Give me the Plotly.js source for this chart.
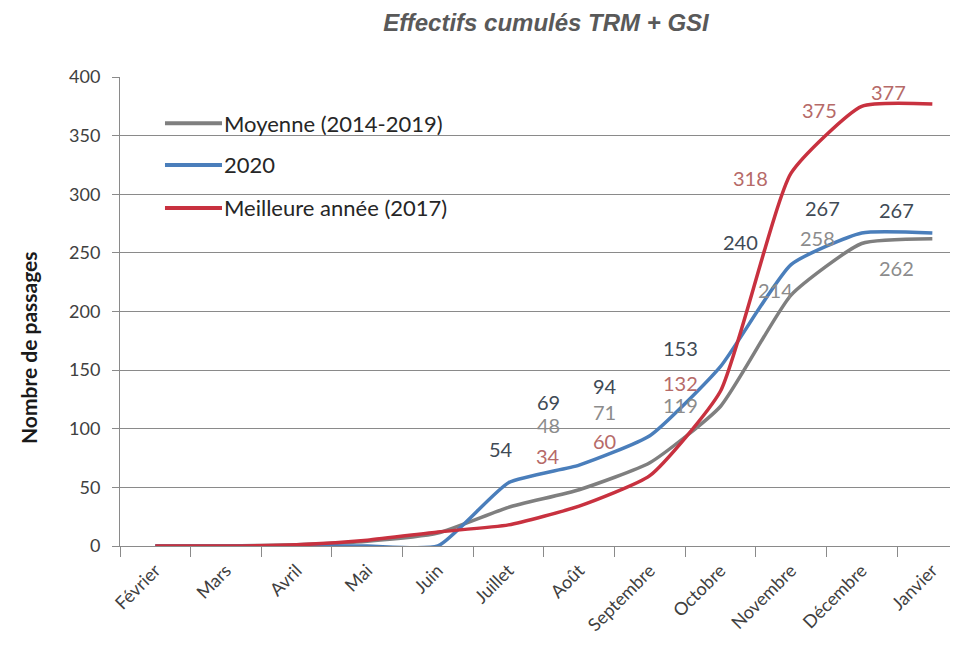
<!DOCTYPE html>
<html>
<head>
<meta charset="utf-8">
<script src="https://cdn.plot.ly/plotly-3.0.1.min.js"></script>
<style>html,body{margin:0;padding:0;background:#fff;}#chart{width:957px;height:657px;}</style>
</head>
<body>
<div id="chart"></div>
<script>
// ---- data ----
const months = ["Février","Mars","Avril","Mai","Juin","Juillet","Août","Septembre","Octobre","Novembre","Décembre","Janvier"];
const seriesNames = ["Moyenne (2014-2019)", "2020", "Meilleure année (2017)"];
const moyenne = [0, 0, 1, 4, 11, 33, 48, 71, 119, 214, 258, 262];
const annee2020 = [0, 0, 0, 0, 0, 54, 69, 94, 153, 240, 267, 267];
const meilleure = [0, 0, 1, 5, 12, 18, 34, 60, 132, 318, 375, 377];
const yTicks = [0, 50, 100, 150, 200, 250, 300, 350, 400];
// which points carry a value label (indices into months)
const labelIdxMoy = [6, 7, 8, 9, 10, 11];
const labelIdx2020 = [5, 6, 7, 8, 9, 10, 11];
const labelIdxBest = [6, 7, 8, 9, 10, 11];

// ---- style ----
const colors = ["#7f7f7f", "#4a7ebb", "#c8313f"];
const labelColors = ["#8c8c8c", "#404a55", "#b66a68"];
const font = "Lato, 'Open Sans', sans-serif";
// label pixel offsets [dx, dy(up)] per labelled point
const offMoy = [[-31,65],[-45,51],[-40,1],[-16,5],[-44,6],[-36,-29]];
const off2020 = [[-8,34],[-31,63],[-45,50],[-40,19],[-51,23],[-39,25],[-36,23]];
const offBest = [[-31,50],[-45,35],[-40,8],[-41,-5],[-42,-4],[-44,12]];

const allSeries = [moyenne, annee2020, meilleure];
const traces = allSeries.map((ys, i) => ({
  type: "scatter", mode: "lines", x: months, y: ys, name: seriesNames[i],
  line: {color: colors[i], width: 3.5, shape: "spline", smoothing: 0.5},
  hoverinfo: "skip", showlegend: false
}));

const annotations = [];
function addLabels(ys, idxs, offs, color) {
  idxs.forEach((k, j) => {
    annotations.push({
      x: months[k], y: ys[k], xref: "x", yref: "y", text: String(ys[k]),
      showarrow: false, xshift: offs[j][0], yshift: offs[j][1],
      xanchor: "center", yanchor: "middle",
      font: {family: font, size: 20, color: color}
    });
  });
}
addLabels(moyenne, labelIdxMoy, offMoy, labelColors[0]);
addLabels(annee2020, labelIdx2020, off2020, labelColors[1]);
addLabels(meilleure, labelIdxBest, offBest, labelColors[2]);

// legend (custom, inside plot)
const shapes = [{
  type: "rect", xref: "paper", yref: "paper", x0: 0.0015, x1: 0.4217, y0: 0.655, y1: 0.983,
  fillcolor: "#ffffff", line: {width: 0}, layer: "between"
}];
const legY = [0.9013, 0.8124, 0.7207];
seriesNames.forEach((n, i) => {
  shapes.push({type: "line", xref: "paper", yref: "paper", x0: 0.0542, x1: 0.1229, y0: legY[i], y1: legY[i],
    line: {color: colors[i], width: 4}});
  annotations.push({xref: "paper", yref: "paper", x: 0.1229, y: legY[i], xanchor: "left", yanchor: "middle",
    text: n, showarrow: false, font: {family: font, size: 22, color: "#262626"}});
});

// y axis title
annotations.push({xref: "paper", yref: "paper", x: -0.111, y: 0.424, xanchor: "center", yanchor: "middle",
  text: "<b>Nombre de passages</b>", textangle: -90, showarrow: false,
  font: {family: font, size: 21, color: "#1a1a1a"}});

const layout = {
  width: 957, height: 657,
  margin: {l: 120, r: 7, t: 77, b: 111},
  paper_bgcolor: "#ffffff", plot_bgcolor: "#ffffff",
  title: {text: "<b><i>Effectifs cumulés TRM + GSI</i></b>", x: 0.5705, xanchor: "center", y: 0.965, yanchor: "middle",
    font: {family: "'Liberation Sans', Arial, sans-serif", size: 24, color: "#595959"}},
  xaxis: {
    type: "category", range: [-0.5, 11.25], tickson: "boundaries",
    showgrid: false, zeroline: false, showline: true, linecolor: "#8a8a8a", linewidth: 1,
    ticks: "outside", ticklen: 10, tickcolor: "#8a8a8a", tickangle: -45, ticklabelstandoff: 6,
    tickfont: {family: font, size: 18, color: "#404040"}, fixedrange: true
  },
  yaxis: {
    range: [0, 400], tickvals: yTicks, ticktext: yTicks.map(String),
    showgrid: true, gridcolor: "#8a8a8a", gridwidth: 1, zeroline: false,
    showline: true, linecolor: "#8a8a8a", linewidth: 1,
    ticks: "outside", ticklen: 7, tickcolor: "#8a8a8a", ticklabelstandoff: 8,
    tickfont: {family: font, size: 18, color: "#404040"}, fixedrange: true
  },
  shapes: shapes,
  annotations: annotations,
  showlegend: false
};

Plotly.newPlot("chart", traces, layout, {displayModeBar: false, staticPlot: true});
</script>
</body>
</html>
